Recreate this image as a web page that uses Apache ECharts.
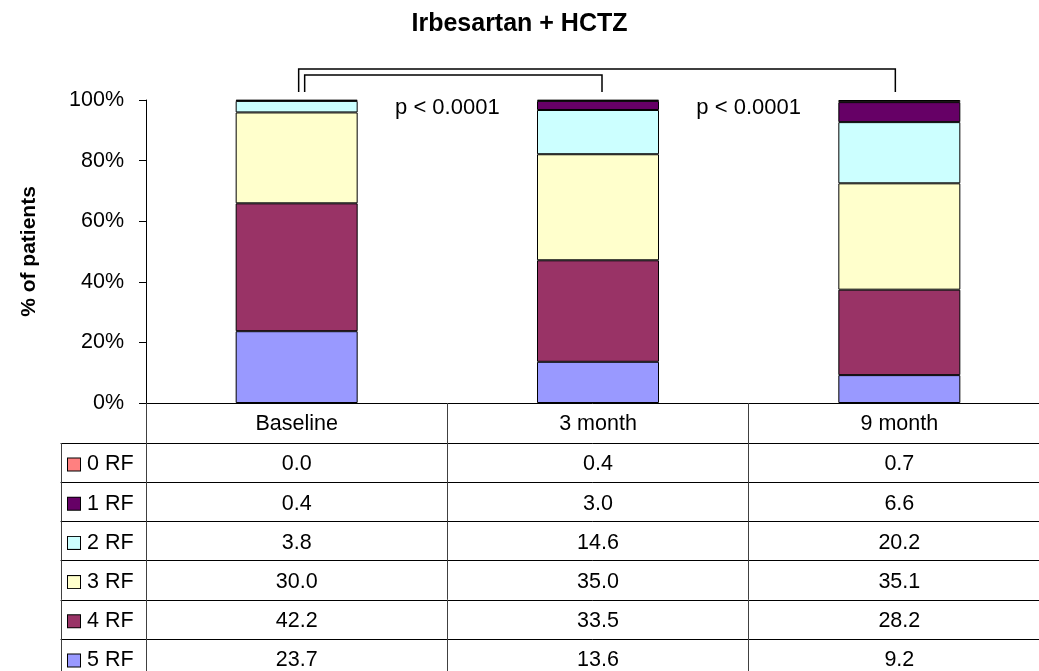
<!DOCTYPE html>
<html>
  <head>
    <meta charset="utf-8" />
    <title>Irbesartan + HCTZ</title>
    <script src="https://cdn.jsdelivr.net/npm/echarts@6/dist/echarts.min.js"></script>
    <style>
      html, body { margin: 0; padding: 0; background: #fff; }
      #main { width: 1039px; height: 671px; }
    </style>
  </head>
  <body>
    <div id="main"></div>
    <script type="text/javascript">
// data
const categories = ['Baseline', '3 month', '9 month'];
const rfNames = ['0 RF', '1 RF', '2 RF', '3 RF', '4 RF', '5 RF'];
const rf0 = [0.0, 0.4, 0.7];
const rf1 = [0.4, 3.0, 6.6];
const rf2 = [3.8, 14.6, 20.2];
const rf3 = [30.0, 35.0, 35.1];
const rf4 = [42.2, 33.5, 28.2];
const rf5 = [23.7, 13.6, 9.2];
const rfValues = [rf0, rf1, rf2, rf3, rf4, rf5];
const rfColors = ['#FF8080', '#660066', '#CCFFFF', '#FFFFCC', '#993366', '#9999FF'];
// comparisons drawn as brackets (from category, to category)
const brackets = [[0, 2], [0, 1]];
// p-value labels, placed between two categories
const pPairs = [[0, 1], [1, 2]];
const pLabels = ['p < 0.0001', 'p < 0.0001'];

const FONT = '"Liberation Sans", Arial, sans-serif';
const headH = 40;
const rowH = 39.2;

var myChart = echarts.init(document.getElementById('main'));

let xAxes = [];
// header row: category names
xAxes.push({
  type: 'category',
  gridIndex: 0,
  position: 'bottom',
  data: categories,
  axisLine: { onZero: false, lineStyle: { color: '#000', width: 1 } },
  axisTick: { show: true, length: headH, interval: 0, lineStyle: { color: '#404040' } },
  axisLabel: { margin: 10.5, fontSize: 21.5, color: '#000', fontFamily: FONT }
});
// data table rows
rfValues.forEach(function (vals, r) {
  xAxes.push({
    type: 'category',
    gridIndex: 0,
    position: 'bottom',
    data: categories,
    offset: headH + r * rowH,
    axisLine: { onZero: false, lineStyle: { color: '#000', width: 1 } },
    axisTick: { show: true, length: rowH, interval: 0, lineStyle: { color: '#404040' } },
    axisLabel: {
      margin: 10.5,
      fontSize: 21.5,
      color: '#000',
      fontFamily: FONT,
      formatter: function (v, i) { return vals[i].toFixed(1); }
    }
  });
});
xAxes.push({
  type: 'category',
  gridIndex: 0,
  position: 'bottom',
  data: categories,
  offset: headH + 6 * rowH,
  axisLine: { onZero: false, lineStyle: { color: '#000' } },
  axisTick: { show: false },
  axisLabel: { show: false }
});
// legend column of the table
rfNames.forEach(function (name, r) {
  xAxes.push({
    type: 'category',
    gridIndex: 1,
    position: 'bottom',
    boundaryGap: false,
    data: [name, ''],
    offset: headH + r * rowH,
    axisLine: { onZero: false, lineStyle: { color: '#000', width: 1 } },
    axisTick: { show: true, length: rowH, interval: 0, lineStyle: { color: '#404040' } },
    axisLabel: {
      interval: 0,
      margin: 10.5,
      align: 'left',
      padding: [0, 0, 0, 7],
      color: '#000',
      fontFamily: FONT,
      fontSize: 21.5,
      formatter: function (v) { return v ? '{sq|}{t|' + v + '}' : ''; },
      rich: {
        sq: { width: 12, height: 12, backgroundColor: rfColors[r], borderColor: '#000', borderWidth: 1 },
        t: { fontSize: 21.5, fontFamily: FONT, color: '#000', padding: [0, 0, 0, 7] }
      }
    }
  });
});
xAxes.push({
  type: 'category',
  gridIndex: 1,
  position: 'bottom',
  boundaryGap: false,
  data: ['', ''],
  offset: headH + 6 * rowH,
  axisLine: { onZero: false, lineStyle: { color: '#000' } },
  axisTick: { show: false },
  axisLabel: { show: false }
});

let series = [];
for (let i = rfNames.length - 1; i >= 0; i--) {
  series.push({
    name: rfNames[i],
    type: 'bar',
    stack: 'rf',
    xAxisIndex: 0,
    yAxisIndex: 0,
    barWidth: 122,
    data: rfValues[i],
    itemStyle: { color: rfColors[i], borderColor: '#000', borderWidth: 1 }
  });
}

// brackets above the bars
series.push({
  type: 'custom',
  xAxisIndex: 0,
  yAxisIndex: 0,
  clip: false,
  silent: true,
  encode: { x: [0, 1] },
  data: brackets,
  renderItem: function (params, api) {
    const i = params.dataIndex;
    const a = api.coord([api.value(0), 100]);
    const b = api.coord([api.value(1), 100]);
    const rise = [31, 25][i];
    const shift = [[2, -4], [8, 4]][i];
    const top = a[1] - rise;
    const leg = a[1] - 8;
    return {
      type: 'polyline',
      shape: {
        points: [
          [a[0] + shift[0], leg],
          [a[0] + shift[0], top],
          [b[0] + shift[1], top],
          [b[0] + shift[1], leg]
        ]
      },
      style: { stroke: '#000', lineWidth: 1.5, fill: null }
    };
  }
});

// p-value labels
series.push({
  type: 'custom',
  xAxisIndex: 0,
  yAxisIndex: 0,
  clip: false,
  silent: true,
  encode: { x: [0, 1] },
  data: pPairs,
  renderItem: function (params, api) {
    const a = api.coord([api.value(0), 100]);
    const b = api.coord([api.value(1), 100]);
    return {
      type: 'text',
      x: (a[0] + b[0]) / 2,
      y: a[1] + 8,
      style: {
        text: pLabels[params.dataIndex],
        fill: '#000',
        fontSize: 22,
        fontFamily: FONT,
        align: 'center',
        verticalAlign: 'middle'
      }
    };
  }
});

option = {
  backgroundColor: '#fff',
  animation: false,
  title: {
    text: 'Irbesartan + HCTZ',
    left: 'center',
    top: 12,
    padding: 0,
    textStyle: { fontSize: 25, fontWeight: 'bold', color: '#000', fontFamily: FONT }
  },
  grid: [
    { left: 146, right: -11, top: 100, bottom: 268, containLabel: false, outerBoundsMode: 'none' },
    { left: 61, width: 85, top: 100, bottom: 268, containLabel: false, outerBoundsMode: 'none' }
  ],
  xAxis: xAxes,
  yAxis: [
    {
      type: 'value',
      gridIndex: 0,
      min: 0,
      max: 100,
      interval: 20,
      name: '% of patients',
      nameLocation: 'middle',
      nameGap: 106,
      nameTextStyle: { fontSize: 21, fontWeight: 'bold', color: '#000', fontFamily: FONT },
      axisLine: { show: true, lineStyle: { color: '#000' } },
      axisTick: { show: true, length: 7, lineStyle: { color: '#000' } },
      axisLabel: { formatter: '{value}%', margin: 22, fontSize: 21.5, color: '#000', fontFamily: FONT },
      splitLine: { show: false }
    },
    { type: 'value', gridIndex: 1, show: false, min: 0, max: 100 }
  ],
  series: series
};

myChart.setOption(option);
    </script>
  </body>
</html>
